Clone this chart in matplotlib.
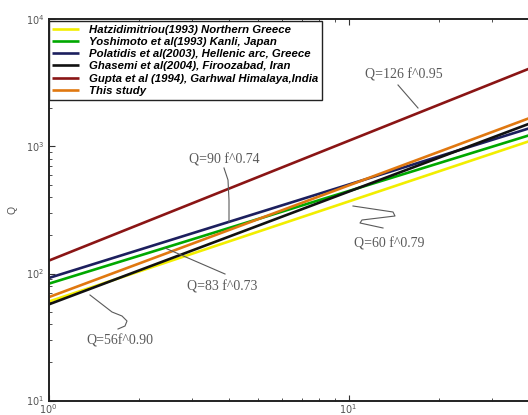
import matplotlib
matplotlib.use("Agg")
import matplotlib.pyplot as plt
from matplotlib.transforms import Affine2D
import numpy as np

# ---- data ----
freq = [1.0, 40.0]
labels = [
    "Hatzidimitriou(1993) Northern Greece",
    "Yoshimoto et al(1993) Kanli, Japan",
    "Polatidis et al(2003), Hellenic arc, Greece",
    "Ghasemi et al(2004), Firoozabad, Iran",
    "Gupta et al (1994), Garhwal Himalaya,India",
    "This study",
]
q_hatz = [60.0, 1100.0]
q_yosh = [83.0, 1225.0]
q_pola = [92.0, 1390.0]
q_ghas = [57.0, 1510.0]
q_gupt = [126.0, 4100.0]
q_this = [65.0, 1670.0]
series = [q_hatz, q_yosh, q_pola, q_ghas, q_gupt, q_this]
colors = ["#f2ee00", "#00a800", "#1c1f5e", "#111111", "#8a1515", "#e07810"]

ann_texts = ["Q=126 f^0.95", "Q=90 f^0.74", "Q=83 f^0.73", "Q=60 f^0.79", "Q=56f^0.90"]

W, H = 528, 415
fig = plt.figure(figsize=(W / 100, H / 100), dpi=100)
ax_l, ax_r, ax_t, ax_b = 48.5, 528, 19.5, 400.5
ax = fig.add_axes([ax_l / W, (H - ax_b) / H, (ax_r - ax_l) / W, (ax_b - ax_t) / H])

for q, c, lab in zip(series, colors, labels):
    ax.plot(freq, q, color=c, lw=1.9, label=lab, solid_capstyle="butt")

ax.set_xscale("log")
ax.set_yscale("log")
ax.set_xlim(1, 10 ** ((ax_r - ax_l) / 300.0))
ax.set_ylim(10, 1e4)

for s in ["left", "bottom", "top"]:
    ax.spines[s].set_linewidth(1.4)
    ax.spines[s].set_color("#222222")
ax.spines["right"].set_visible(False)
ax.tick_params(which="both", direction="in", top=True, right=False,
               labelsize=7, labelcolor="#555555", color="#333333")
ax.tick_params(which="major", length=4, width=0.8)
ax.tick_params(which="minor", length=2.5, width=0.6)
ax.tick_params(axis="x", pad=1.5)
ax.tick_params(axis="y", pad=3)

ax.set_ylabel("Q", fontsize=7.5, color="#555555", family="Liberation Sans")
ax.yaxis.set_label_coords((17 - ax_l) / (ax_r - ax_l), (ax_b - 210) / (ax_b - ax_t))

leg = ax.legend(loc="upper left", bbox_to_anchor=(0.0, 0.997), borderaxespad=0.0,
                fancybox=False, framealpha=1, edgecolor="#222222",
                prop={"family": "Liberation Sans", "weight": "bold", "style": "italic", "size": 8.2},
                handlelength=2.3, handletextpad=0.9, labelspacing=0.2, borderpad=0.35)
leg.get_frame().set_linewidth(1.0)

# pixel (top-left origin) transform for annotations
pt = Affine2D().scale(1, -1).translate(0, H)
gray = "#5a5a5a"
afont = dict(family="Liberation Serif", fontsize=10, color=gray, transform=pt,
             ha="center", va="center")

fig.text(404, 75, ann_texts[0], **afont)
fig.add_artist(plt.Line2D([398, 418], [85, 108], transform=pt, color=gray, lw=0.8))

fig.text(224, 160, ann_texts[1], **afont)
fig.add_artist(plt.Line2D([224, 228, 229, 229], [168, 180, 200, 222], transform=pt, color=gray, lw=0.8))

fig.text(222, 287, ann_texts[2], **afont)
fig.add_artist(plt.Line2D([165, 225], [248, 274], transform=pt, color=gray, lw=0.8))

fig.text(389, 244, ann_texts[3], **afont)
fig.add_artist(plt.Line2D([353, 393, 395, 362, 360, 383], [206, 212, 216, 220, 223, 228],
                          transform=pt, color=gray, lw=0.8))

fig.text(120, 341, ann_texts[4], **afont)
fig.add_artist(plt.Line2D([90, 112, 122, 127, 125, 118], [295, 312, 316, 321, 326, 329],
                          transform=pt, color=gray, lw=0.8))

fig.savefig("out.png", dpi=100)
